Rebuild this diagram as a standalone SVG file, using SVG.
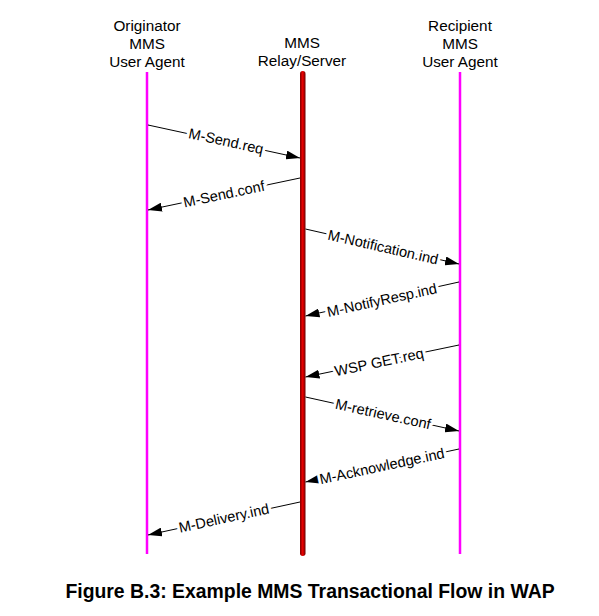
<svg xmlns="http://www.w3.org/2000/svg" width="599" height="616" viewBox="0 0 599 616">
<defs>
<marker id="ah" viewBox="0 0 14 9" refX="14" refY="4.5" markerWidth="14" markerHeight="9" markerUnits="userSpaceOnUse" orient="auto">
<path d="M0,0 L14,4.5 L0,9 Z" fill="#000"/>
</marker>
<linearGradient id="bar" x1="0" y1="0" x2="1" y2="0">
<stop offset="0" stop-color="#7a0000"/>
<stop offset="0.45" stop-color="#e80000"/>
<stop offset="0.6" stop-color="#d00000"/>
<stop offset="1" stop-color="#6a0000"/>
</linearGradient>
</defs>
<style>
.hdr{font-family:"Liberation Sans",Arial,sans-serif;font-size:15.3px;fill:#000;text-anchor:middle}
.life{stroke:#ff00ff;stroke-width:2.5;fill:none}
.msg{stroke:#000;stroke-width:1;fill:none;marker-end:url(#ah)}
.lbl{font-family:"Liberation Sans",Arial,sans-serif;font-size:14.6px;fill:#000;text-anchor:middle;stroke:#fff;stroke-width:6;paint-order:stroke;stroke-linejoin:round}
.title{font-family:"Liberation Sans",Arial,sans-serif;font-size:19.4px;font-weight:bold;fill:#000;text-anchor:middle}
</style>
<rect width="599" height="616" fill="#fff"/>
<g id="originator">
<text class="hdr" x="147" y="31">Originator</text>
<text class="hdr" x="147" y="49">MMS</text>
<text class="hdr" x="147" y="67">User Agent</text>
<line class="life" x1="147" y1="72" x2="147" y2="554"/>
</g>
<g id="relay">
<text class="hdr" x="302" y="48">MMS</text>
<text class="hdr" x="302" y="66">Relay/Server</text>
<rect x="300" y="71" width="5.5" height="485" rx="2.7" fill="url(#bar)"/>
</g>
<g id="recipient">
<text class="hdr" x="460" y="31">Recipient</text>
<text class="hdr" x="460" y="49">MMS</text>
<text class="hdr" x="460" y="67">User Agent</text>
<line class="life" x1="460" y1="72" x2="460" y2="554"/>
</g>
<g id="connectors">
<line class="msg" x1="148" y1="125" x2="300" y2="158"/>
<text class="lbl" transform="translate(225,146) rotate(12.3)">M-Send.req</text>
<line class="msg" x1="300" y1="178" x2="148" y2="210"/>
<text class="lbl" transform="translate(225,199) rotate(-12)">M-Send.conf</text>
<line class="msg" x1="305.5" y1="229" x2="459" y2="264"/>
<text class="lbl" transform="translate(382,252) rotate(12.8)">M-Notification.ind</text>
<line class="msg" x1="459" y1="282" x2="305.5" y2="316"/>
<text class="lbl" transform="translate(383,305) rotate(-12.4)">M-NotifyResp.ind</text>
<line class="msg" x1="459" y1="345" x2="305.5" y2="377"/>
<text class="lbl" transform="translate(380,367) rotate(-11.7)">WSP GET.req</text>
<line class="msg" x1="305.5" y1="397" x2="459" y2="431"/>
<text class="lbl" transform="translate(382,419) rotate(12.4)">M-retrieve.conf</text>
<line class="msg" x1="459" y1="449" x2="305.5" y2="482"/>
<text class="lbl" transform="translate(383,471) rotate(-12)">M-Acknowledge.ind</text>
<line class="msg" x1="300" y1="502" x2="148" y2="535"/>
<text class="lbl" transform="translate(225,523) rotate(-12.3)">M-Delivery.ind</text>
</g>
<text class="title" x="310" y="598">Figure B.3: Example MMS Transactional Flow in WAP</text>
</svg>
